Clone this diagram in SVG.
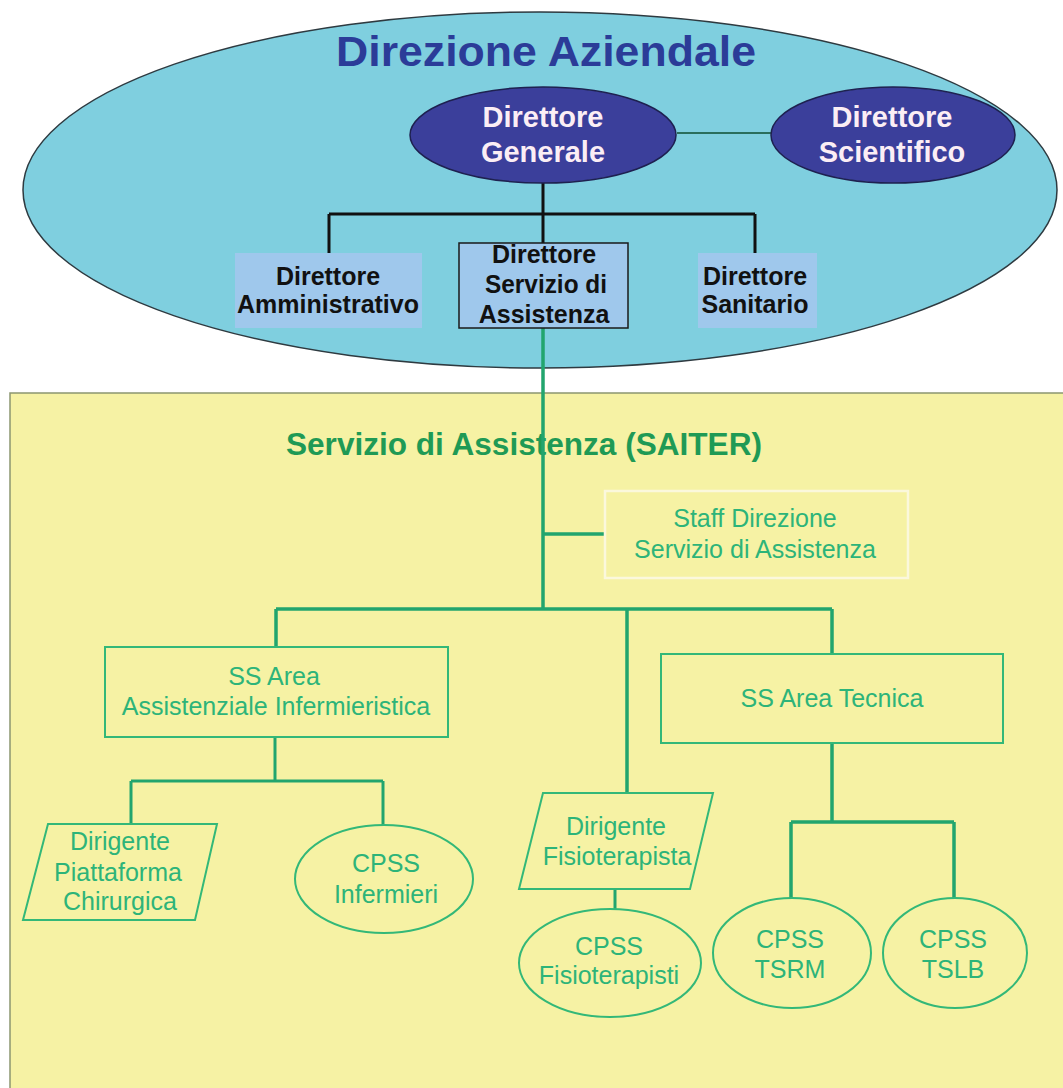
<svg xmlns="http://www.w3.org/2000/svg" width="1063" height="1088" viewBox="0 0 1063 1088">
  <style>
    .top-title { font-family: "Liberation Sans", Arial, sans-serif; font-weight: bold; font-size: 42px; fill: #2b3c98; text-anchor: middle; }
    .exec { fill: #3b3f9b; stroke: #1e2150; stroke-width: 1.5; }
    .exec-text { font-family: "Liberation Sans", Arial, sans-serif; font-weight: bold; font-size: 29px; fill: #fbeef5; text-anchor: middle; }
    .dir-box { fill: #9fc8ec; }
    .dir-text { font-family: "Liberation Sans", Arial, sans-serif; font-weight: bold; font-size: 25px; fill: #111111; text-anchor: middle; }
    .sec-title { font-family: "Liberation Sans", Arial, sans-serif; font-weight: bold; font-size: 31px; fill: #1f9a55; text-anchor: middle; }
    .unit { fill: #f6f2a4; stroke: #33b878; stroke-width: 2; }
    .unit-text { font-family: "Liberation Sans", Arial, sans-serif; font-size: 25px; fill: #2db479; text-anchor: middle; }
    .link-black { fill: none; stroke: #111111; stroke-width: 3; }
    .link-green { fill: none; stroke: #22a56e; stroke-width: 3.5; }
  </style>

  <rect x="0" y="0" width="1063" height="1088" fill="#ffffff"/>

  <!-- Executive management area -->
  <g id="direzione-aziendale">
    <ellipse cx="540" cy="190" rx="517" ry="178" fill="#7fcfdf" stroke="#2e3a40" stroke-width="1.5"/>
    <text class="top-title" x="546" y="66" textLength="420" lengthAdjust="spacingAndGlyphs">Direzione Aziendale</text>
  </g>

  <!-- Service area panel -->
  <g id="servizio-assistenza">
    <rect x="10" y="393" width="1070" height="710" fill="#f6f2a4" stroke="#8c9670" stroke-width="1.5"/>
    <text class="sec-title" x="524" y="455" textLength="476" lengthAdjust="spacingAndGlyphs">Servizio di Assistenza (SAITER)</text>
  </g>

  <!-- Connectors -->
  <g id="connectors">
    <line x1="677" y1="133" x2="771" y2="133" stroke="#2a6e5c" stroke-width="2"/>
    <path class="link-black" d="M543 182 V243 M329 214 H755 M329 214 V253 M755 214 V253"/>
    <path class="link-green" d="M543 328 V610 M543 534 H605 M276 609 H832 M276 609 V647 M832 609 V654 M627 609 V793"/>
    <path class="link-green" style="stroke-width:3" d="M275 737 V781 M131 781 H383 M131 781 V824 M383 781 V825"/>
    <path class="link-green" style="stroke-width:3" d="M615 889 V910"/>
    <path class="link-green" d="M832 743 V822 M791 822 H954 M791 822 V899 M954 822 V899"/>
  </g>

  <g id="direttore-generale">
    <ellipse class="exec" cx="543" cy="135" rx="133" ry="48"/>
    <text class="exec-text" x="543" y="127">Direttore</text>
    <text class="exec-text" x="543" y="162">Generale</text>
  </g>

  <g id="direttore-scientifico">
    <ellipse class="exec" cx="893" cy="135" rx="122" ry="48"/>
    <text class="exec-text" x="892" y="127">Direttore</text>
    <text class="exec-text" x="892" y="162">Scientifico</text>
  </g>

  <g id="direttore-amministrativo">
    <rect class="dir-box" x="235" y="253" width="187" height="75"/>
    <text class="dir-text" x="328" y="285">Direttore</text>
    <text class="dir-text" x="328" y="313">Amministrativo</text>
  </g>

  <g id="direttore-servizio-assistenza">
    <rect class="dir-box" x="459" y="243" width="169" height="85" fill="#a2cfee" stroke="#1a1a1a" stroke-width="1.5"/>
    <text class="dir-text" x="544" y="263">Direttore</text>
    <text class="dir-text" x="546" y="293" textLength="122" lengthAdjust="spacingAndGlyphs">Servizio di</text>
    <text class="dir-text" x="544" y="323">Assistenza</text>
  </g>

  <g id="direttore-sanitario">
    <rect class="dir-box" x="698" y="253" width="119" height="75"/>
    <text class="dir-text" x="755" y="285">Direttore</text>
    <text class="dir-text" x="755" y="313">Sanitario</text>
  </g>

  <g id="staff-direzione">
    <rect x="605" y="491" width="303" height="87" fill="#f6f2a4" stroke="#fbf8dc" stroke-width="2.5"/>
    <text class="unit-text" x="755" y="527">Staff Direzione</text>
    <text class="unit-text" x="755" y="558">Servizio di Assistenza</text>
  </g>

  <g id="ss-area-infermieristica">
    <rect class="unit" x="105" y="647" width="343" height="90"/>
    <text class="unit-text" x="274" y="685">SS Area</text>
    <text class="unit-text" x="276" y="715">Assistenziale Infermieristica</text>
  </g>

  <g id="ss-area-tecnica">
    <rect class="unit" x="661" y="654" width="342" height="89"/>
    <text class="unit-text" x="832" y="707">SS Area Tecnica</text>
  </g>

  <g id="dirigente-piattaforma">
    <polygon class="unit" points="48,824 217,824 195,920 23,920"/>
    <text class="unit-text" x="120" y="850">Dirigente</text>
    <text class="unit-text" x="118" y="881">Piattaforma</text>
    <text class="unit-text" x="120" y="910">Chirurgica</text>
  </g>

  <g id="cpss-infermieri">
    <ellipse class="unit" cx="384" cy="879" rx="89" ry="54"/>
    <text class="unit-text" x="386" y="872">CPSS</text>
    <text class="unit-text" x="386" y="903">Infermieri</text>
  </g>

  <g id="dirigente-fisioterapista">
    <polygon class="unit" points="543,793 713,793 690,889 519,889"/>
    <text class="unit-text" x="616" y="835">Dirigente</text>
    <text class="unit-text" x="617" y="865">Fisioterapista</text>
  </g>

  <g id="cpss-fisioterapisti">
    <ellipse class="unit" cx="610" cy="963" rx="91" ry="54"/>
    <text class="unit-text" x="609" y="955">CPSS</text>
    <text class="unit-text" x="609" y="984">Fisioterapisti</text>
  </g>

  <g id="cpss-tsrm">
    <ellipse class="unit" cx="792" cy="953" rx="79" ry="55"/>
    <text class="unit-text" x="790" y="948">CPSS</text>
    <text class="unit-text" x="790" y="978">TSRM</text>
  </g>

  <g id="cpss-tslb">
    <ellipse class="unit" cx="955" cy="953" rx="72" ry="55"/>
    <text class="unit-text" x="953" y="948">CPSS</text>
    <text class="unit-text" x="953" y="978">TSLB</text>
  </g>
</svg>
